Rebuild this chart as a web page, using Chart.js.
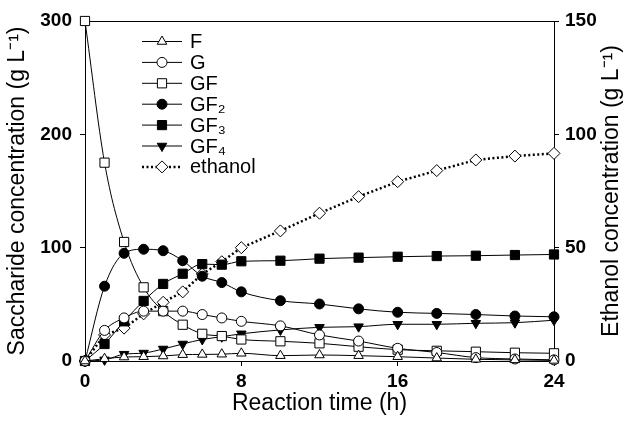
<!DOCTYPE html>
<html>
<head>
<meta charset="utf-8">
<script src="https://cdn.jsdelivr.net/npm/chart.js@4/dist/chart.umd.min.js"></script>
<style>
  body { margin: 0; background: #fff; }
  #wrap { width: 630px; height: 421px; }
</style>
</head>
<body>
<div id="wrap"><canvas id="myChart" width="630" height="421"></canvas></div>
<script>
// reaction time (h)
const times = [0, 1, 2, 3, 4, 5, 6, 7, 8, 10, 12, 14, 16, 18, 20, 22, 24];

// saccharides (g/L), left axis
const F   = [0, 2, 3.5, 3.8, 4.4, 5.6, 5.8, 6, 6.8, 4.7, 5.3, 4.7, 3.8, 2.6, 1.5, 1, 0.5];
const G   = [0, 27, 38, 44, 44, 44, 41, 38, 35, 31, 23, 17.6, 11.2, 7.5, 3, 1.8, 1];
const GF  = [300, 175, 105, 65, 44, 32, 24, 22, 19, 17.4, 15.6, 12.6, 10, 9, 8.2, 7.3, 6.8];
const GF2 = [0, 66, 95, 98.6, 97.3, 88.5, 74.8, 69.2, 61, 53.2, 50.3, 46, 43, 42, 41, 39.7, 39];
const GF3 = [0, 15, 35, 53, 68, 77, 85.5, 85, 88, 88.5, 90.3, 91.2, 92, 92.6, 92.9, 93.5, 94];
const GF4 = [0, 1, 6, 7, 10.6, 15, 19, 21.4, 24, 27.4, 29.7, 30.3, 32.4, 32.4, 33.3, 33.8, 36];

// ethanol (g/L), right axis
const ethanol = [0, 11.5, 14.5, 20.8, 25.9, 30.5, 38.4, 43.8, 50, 57.4, 65.2, 72.5, 79.1, 84, 88.7, 90.4, 91.6];

const xTicks = [0, 8, 16, 24];
const leftTicks = [0, 100, 200, 300];
const rightTicks = [0, 50, 100, 150];

const FONT = "'Liberation Sans', Arial, Helvetica, sans-serif";

function pts(ys) {
    return times.map((t, i) => ({ x: t, y: ys[i] }));
}

function series(label, ys, style, filled, extra = {}) {
    return Object.assign({
        label: label,
        data: pts(ys),
        yAxisID: 'y',
        borderColor: '#000',
        borderWidth: 1,
        backgroundColor: filled ? '#000' : '#fff',
        pointStyle: style,
        pointRadius: 5,
        pointBorderWidth: 1,
        pointBorderColor: '#000',
        pointBackgroundColor: filled ? '#000' : '#fff',
        cubicInterpolationMode: 'monotone',
        clip: false
    }, extra);
}

const datasets = [
    series('F', F, 'triangle', false, { pointRadius: 5.5 }),
    series('G', G, 'circle', false),
    series('GF', GF, 'rect', false, { pointRadius: 6.5 }),
    series('GF\u2082', GF2, 'circle', true),
    series('GF\u2083', GF3, 'rect', true, { pointRadius: 6.5 }),
    series('GF\u2084', GF4, 'triangle', true, { pointRadius: 5.5, pointRotation: 180 }),
    series('ethanol', ethanol, 'rectRot', false, {
        yAxisID: 'y2',
        borderWidth: 2.5,
        borderDash: [2, 2.5],
        pointRadius: 6,
        cubicInterpolationMode: 'default',
        tension: 0
    })
];

// frame, right-hand title and in-plot legend
const decorations = {
    id: 'decorations',
    beforeDatasetsDraw(chart) {
        const { ctx, chartArea: a } = chart;
        ctx.save();
        ctx.strokeStyle = '#000';
        ctx.lineWidth = 1;
        ctx.beginPath();
        ctx.moveTo(a.left, a.top + 0.5);
        ctx.lineTo(a.right, a.top + 0.5);
        ctx.stroke();
        ctx.restore();
    },
    afterDraw(chart) {
        const { ctx, chartArea: a } = chart;
        ctx.save();
        ctx.fillStyle = '#000';
        ctx.font = '23px ' + FONT;
        ctx.textAlign = 'center';
        ctx.textBaseline = 'middle';
        ctx.translate(612, (a.top + a.bottom) / 2);
        ctx.rotate(-Math.PI / 2);
        ctx.fillText('Ethanol concentration (g L\u207B\u00B9)', 0, 0);
        ctx.restore();

        // legend
        const x0 = 142, x1 = 182, mx = 162, tx = 190;
        chart.data.datasets.forEach((ds, i) => {
            const y = 41.5 + i * 20.9;
            ctx.save();
            ctx.strokeStyle = '#000';
            ctx.lineWidth = ds.borderWidth;
            ctx.setLineDash(ds.borderDash || []);
            ctx.beginPath();
            ctx.moveTo(x0, y);
            ctx.lineTo(x1, y);
            ctx.stroke();
            ctx.setLineDash([]);
            ctx.lineWidth = 1;
            ctx.fillStyle = ds.pointBackgroundColor;
            Chart.helpers.drawPoint(ctx, {
                pointStyle: ds.pointStyle,
                rotation: ds.pointRotation || 0,
                radius: ds.pointRadius,
                borderWidth: 1
            }, mx, y);
            ctx.fillStyle = '#000';
            ctx.font = '20px ' + FONT;
            ctx.textAlign = 'left';
            ctx.textBaseline = 'middle';
            ctx.fillText(ds.label, tx, y + 1);
            ctx.restore();
        });
    }
};

const axisCommon = {
    grid: { display: true, drawOnChartArea: false, drawTicks: true, tickLength: 5, color: '#000' },
    border: { display: true, color: '#000', width: 1 }
};

const ctx = document.getElementById('myChart');
new Chart(ctx, {
    type: 'line',
    data: { datasets: datasets },
    options: {
        responsive: false,
        animation: false,
        devicePixelRatio: 1,
        layout: { padding: { top: 21, left: 0, right: 0, bottom: 0 } },
        plugins: { legend: { display: false }, tooltip: { enabled: false } },
        scales: {
            x: Object.assign({
                type: 'linear',
                min: 0, max: 24,
                afterBuildTicks: (s) => { s.ticks = xTicks.map(v => ({ value: v })); },
                ticks: { color: '#000', padding: 4, font: { family: FONT, size: 19, weight: 'bold' } },
                title: { display: true, text: 'Reaction time (h)', color: '#000',
                         font: { family: FONT, size: 23 }, padding: { top: 0, bottom: 4 } },
                afterFit: (s) => { s.height = 60; }
            }, axisCommon),
            y: Object.assign({
                position: 'left',
                min: 0, max: 300,
                afterBuildTicks: (s) => { s.ticks = leftTicks.map(v => ({ value: v })); },
                ticks: { color: '#000', padding: 8, font: { family: FONT, size: 19, weight: 'bold' } },
                title: { display: true, text: 'Saccharide concentration (g L\u207B\u00B9)', color: '#000',
                         font: { family: FONT, size: 23 }, padding: { top: 4, bottom: 0 } },
                afterFit: (s) => { s.width = 85; }
            }, axisCommon),
            y2: Object.assign({
                position: 'right',
                min: 0, max: 150,
                afterBuildTicks: (s) => { s.ticks = rightTicks.map(v => ({ value: v })); },
                ticks: { color: '#000', padding: 6, font: { family: FONT, size: 19, weight: 'bold' } },
                afterFit: (s) => { s.width = 76; }
            }, axisCommon)
        }
    },
    plugins: [decorations]
});
</script>
</body>
</html>
